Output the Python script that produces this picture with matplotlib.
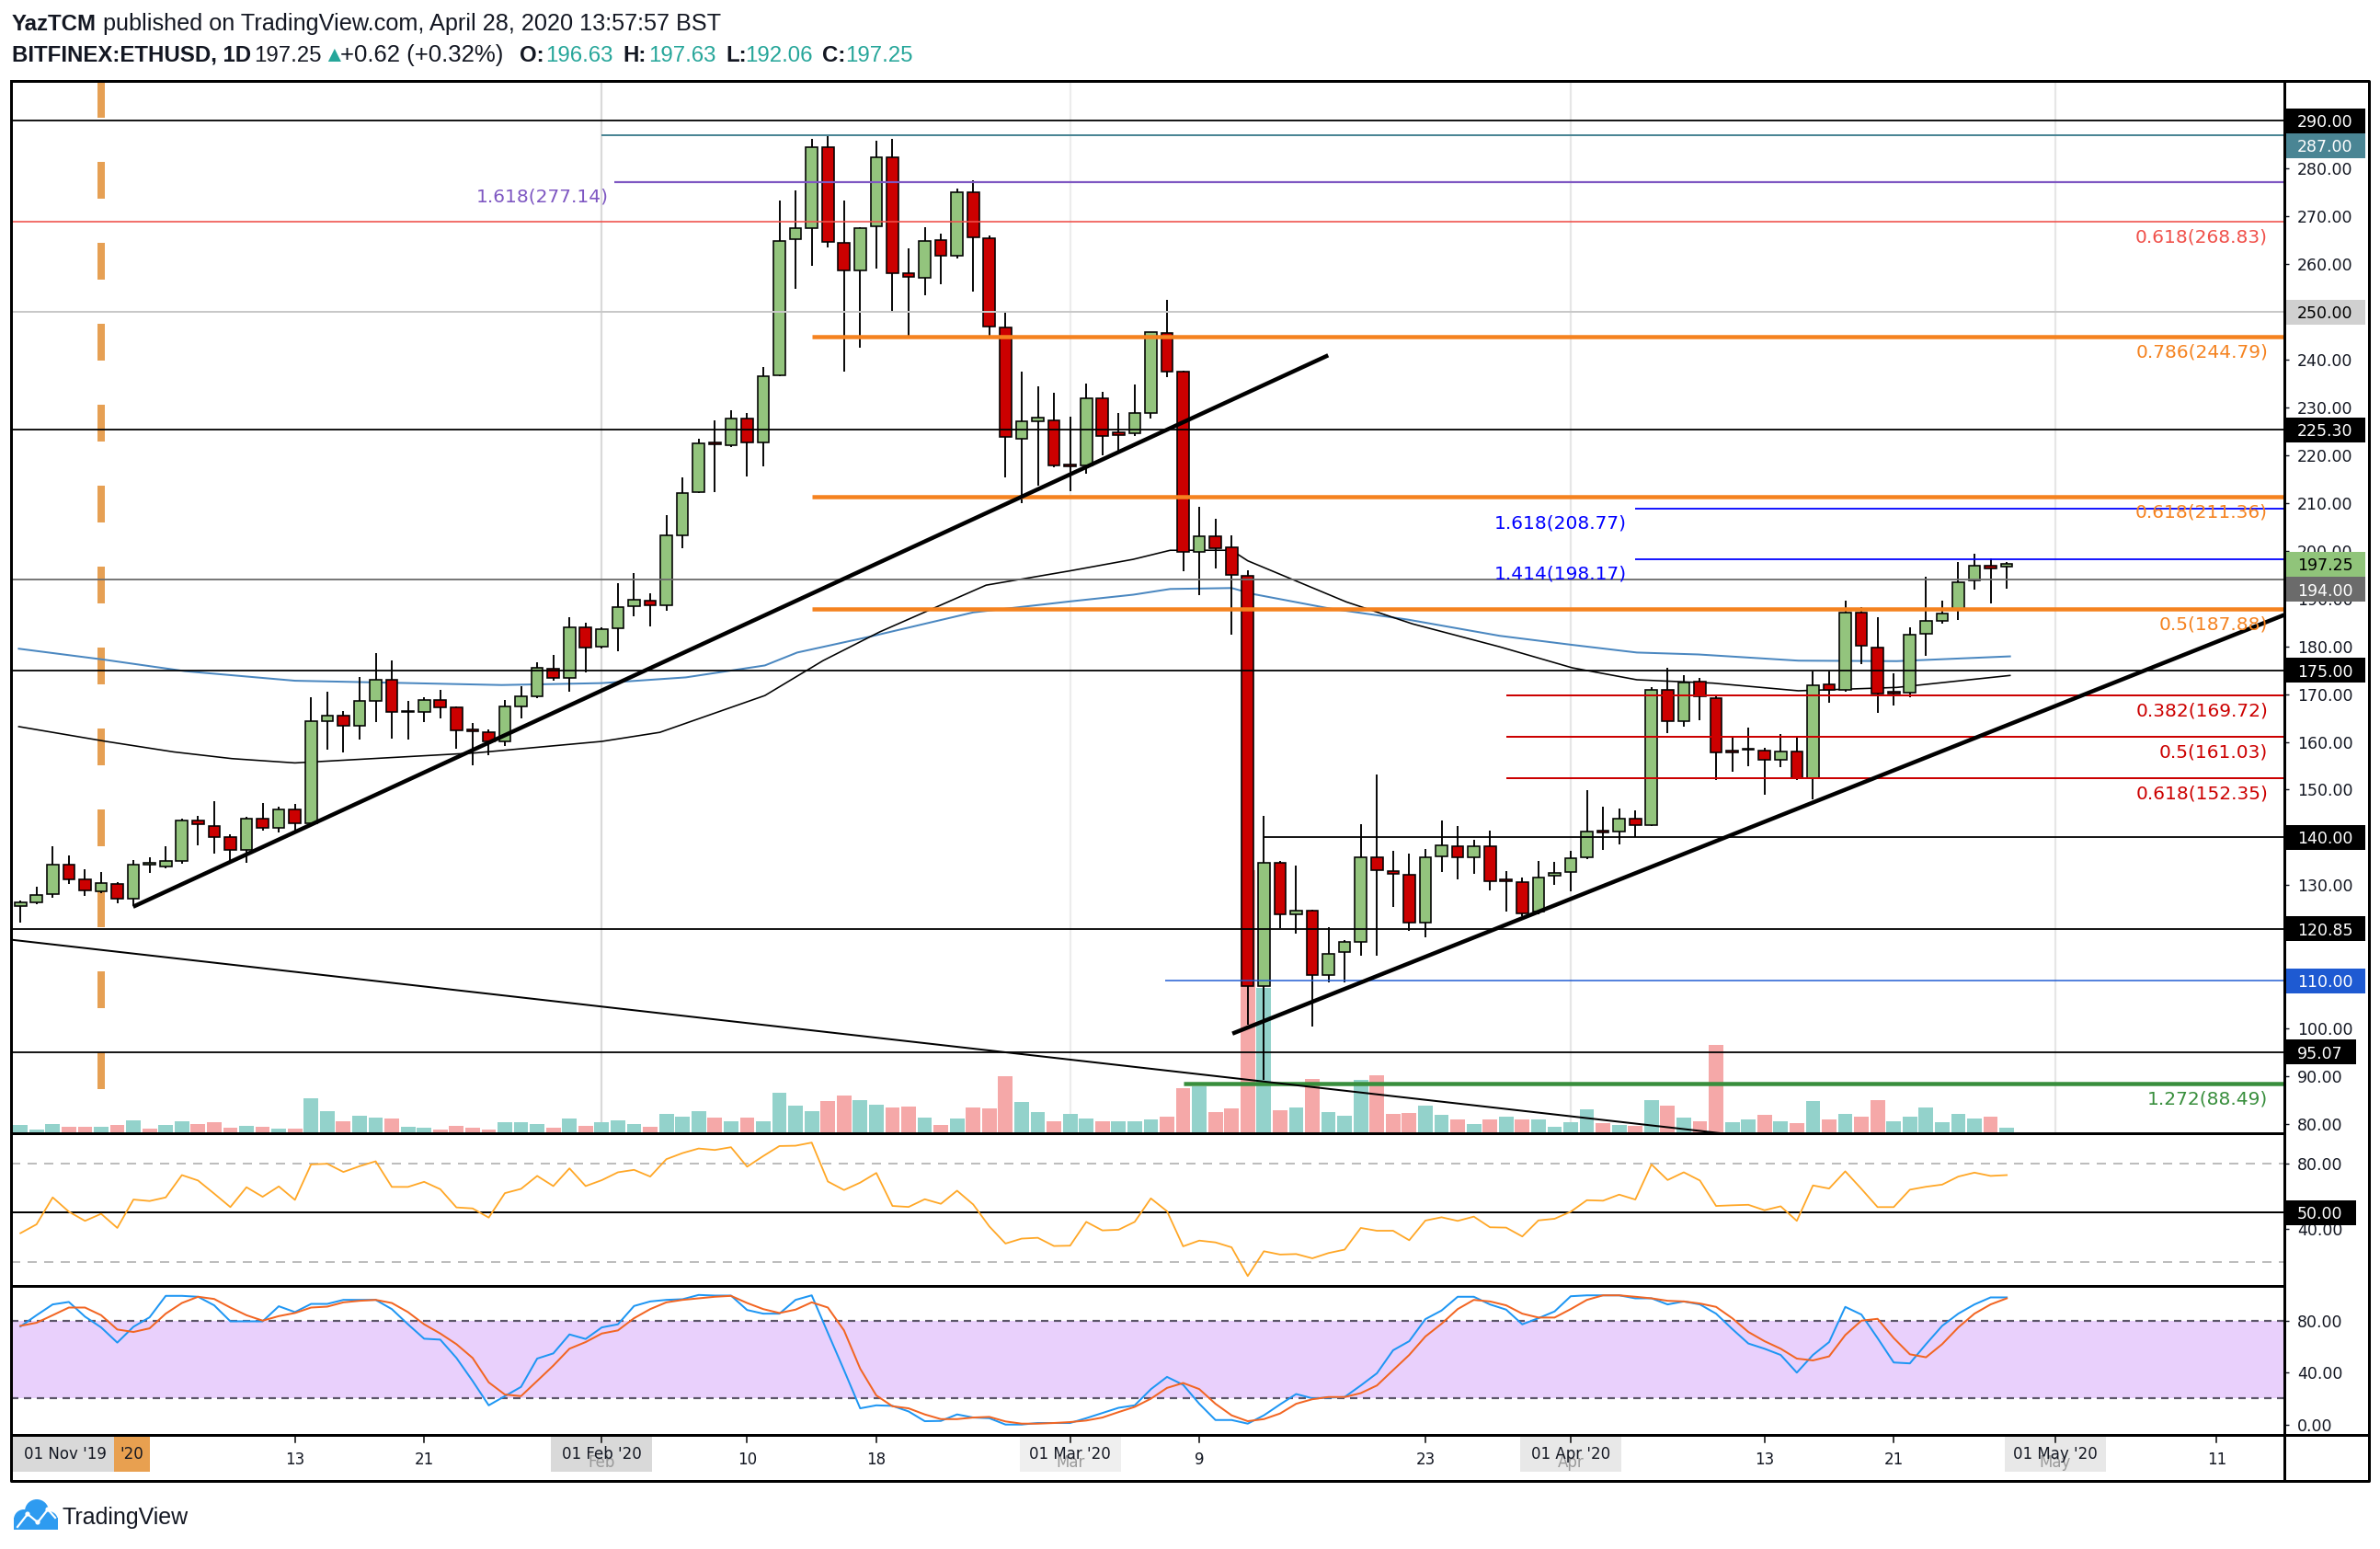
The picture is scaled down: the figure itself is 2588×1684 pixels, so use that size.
import matplotlib
matplotlib.use("Agg")
import matplotlib.pyplot as plt
import matplotlib.transforms as mtransforms
from matplotlib.patches import Rectangle, Circle
import numpy as np

plt.rcParams['font.family'] = ['DejaVu Sans']
plt.rcParams['lines.scale_dashes'] = False

# ======================= DATA =======================
# day index: 0 = 01 Jan 2020 ; first candle = 27 Dec 2019
first_day = -5

opens = [125.7, 126.5, 128.1, 134.3, 131.2,
         128.8, 130.3, 127.1, 134.3, 134.0, 135.0, 143.6, 142.4, 140.0, 137.3,
         143.9, 142.0, 145.9, 143.0, 164.4, 165.5, 163.4, 168.6, 173.0, 166.3,
         166.3, 168.8, 167.2, 162.4, 162.0, 160.1, 167.5, 169.5, 175.35, 173.3, 183.9,
         179.9, 183.7, 188.4, 189.5, 188.5, 203.3, 212.2, 222.5, 222.1, 227.6,
         222.6, 236.7, 265.3, 267.6, 284.5, 264.4, 258.6, 267.9, 282.4, 258.0,
         257.1, 265.0, 261.8, 275.1, 265.4, 246.7, 223.5, 227.0, 227.2,
         217.9, 217.8, 231.9, 224.8, 224.6, 228.9, 245.5, 237.5, 199.7, 203.1,
         200.7, 194.8, 108.9, 134.7, 123.9, 124.7, 111.3, 116.0, 118.2, 135.8,
         133.0, 132.1, 122.1, 136.0, 138.1, 135.9, 138.1, 130.9, 130.6, 124.5, 132.0,
         132.7, 135.9, 141.2, 141.2, 144.0, 142.6, 170.8, 164.4, 172.6, 169.2,
         157.9, 158.3, 158.2, 156.2, 157.9, 152.4, 172.0, 170.9, 187.0, 179.8,
         170.3, 170.4, 182.6, 185.4, 187.6, 193.7, 196.8, 196.63]
highs = [126.8, 129.7, 138.2, 136.2, 133.4,
         132.7, 130.6, 135.2, 135.9, 138.1, 143.9, 144.6, 147.5, 140.7, 144.4,
         147.2, 146.5, 147.0, 169.4, 170.5, 166.5, 173.5, 178.5, 177.1, 168.5,
         169.4, 170.9, 167.5, 163.9, 162.6, 168.7, 171.6, 176.6, 178.2, 186.1, 185.0,
         183.9, 193.3, 195.4, 191.1, 207.5, 215.4, 223.5, 227.2, 229.4, 228.9,
         238.5, 273.2, 275.5, 286.1, 286.9, 273.2, 267.8, 285.9, 286.2, 263.3,
         267.8, 266.3, 275.8, 277.6, 266.0, 250.0, 237.5, 234.5, 233.0,
         228.1, 235.0, 233.2, 228.9, 234.7, 245.8, 252.6, 237.6, 209.2, 206.6,
         203.2, 196.0, 144.5, 135.1, 134.1, 124.9, 121.3, 118.5, 142.7, 153.2,
         137.2, 136.7, 137.6, 143.5, 142.3, 139.6, 141.5, 132.9, 131.6, 135.1, 134.9,
         137.2, 149.9, 146.5, 146.1, 145.7, 171.5, 175.5, 173.9, 173.3, 169.6,
         160.9, 163.0, 158.7, 161.6, 161.0, 174.8, 174.8, 189.5, 188.3, 186.1,
         174.3, 183.9, 194.5, 189.5, 197.7, 199.3, 198.5, 197.63]
lows = [122.1, 126.0, 127.4, 130.2, 127.8,
        128.3, 126.3, 125.7, 132.6, 133.6, 134.5, 138.4, 136.7, 135.0, 134.7,
        141.4, 141.0, 141.5, 142.6, 158.4, 157.8, 160.4, 164.2, 160.6, 160.4,
        164.2, 165.0, 158.6, 155.1, 157.3, 159.1, 164.9, 169.2, 172.85, 170.5, 174.6,
        179.5, 178.9, 186.2, 184.2, 187.5, 200.6, 212.0, 212.3, 221.8, 215.5,
        217.7, 236.5, 254.9, 259.6, 263.5, 237.5, 242.5, 259.0, 250.0, 244.8,
        253.4, 255.8, 261.1, 254.3, 244.8, 215.4, 210.0, 213.7, 217.5,
        212.4, 216.2, 219.9, 220.9, 224.0, 227.6, 236.4, 195.8, 190.7, 196.3,
        182.5, 100.9, 89.2, 121.1, 119.9, 100.5, 109.7, 109.7, 115.2, 115.2,
        125.5, 120.5, 119.1, 132.7, 131.2, 132.3, 129.0, 124.5, 123.5, 124.0, 130.1,
        128.8, 135.5, 137.4, 138.6, 140.0, 142.4, 161.9, 163.2, 164.5, 152.1,
        153.7, 154.9, 148.9, 154.7, 152.1, 147.9, 168.1, 170.5, 176.3, 166.1,
        167.7, 169.4, 178.0, 184.8, 185.5, 191.8, 188.9, 192.06]
closes = [126.4, 127.9, 134.3, 131.3, 129.0,
          130.4, 127.1, 134.3, 134.6, 135.1, 143.6, 142.7, 140.0, 137.3, 143.9,
          142.1, 145.9, 143.0, 164.3, 165.5, 163.4, 168.6, 173.0, 166.3, 166.2,
          168.8, 167.3, 162.5, 162.3, 160.1, 167.5, 169.5, 175.5, 173.4, 183.9, 179.7,
          183.6, 188.2, 189.7, 188.5, 203.3, 212.1, 222.4, 222.3, 227.6, 222.6,
          236.6, 264.8, 267.6, 284.5, 264.6, 258.6, 267.6, 282.4, 258.0, 257.3,
          264.8, 261.8, 275.1, 265.6, 247.0, 223.8, 227.0, 227.8, 217.8,
          217.7, 231.9, 224.0, 224.2, 228.9, 245.7, 237.5, 199.7, 203.1, 200.6,
          195.0, 108.9, 134.7, 124.0, 124.7, 111.3, 115.7, 118.2, 135.8, 133.1,
          132.3, 122.1, 135.8, 138.3, 135.9, 138.1, 130.8, 130.8, 124.2, 131.6, 132.6,
          135.7, 141.2, 141.1, 143.9, 142.5, 170.8, 164.4, 172.5, 169.6, 157.7,
          157.8, 158.4, 156.2, 157.9, 152.4, 171.8, 170.9, 187.0, 180.2, 170.1,
          170.2, 182.4, 185.3, 186.9, 193.5, 196.8, 196.3, 197.25]

volumes = [27, 12, 30, 21, 21,
           21, 27, 42, 15, 27, 39, 30, 36, 18, 24,
           21, 15, 15, 114, 72, 39, 57, 51, 48, 21,
           18, 12, 24, 18, 12, 36, 36, 30, 18, 48, 24,
           36, 42, 30, 21, 63, 54, 72, 51, 39, 51,
           39, 132, 90, 72, 105, 123, 108, 93, 84, 87,
           51, 27, 48, 84, 81, 186, 102, 69, 39,
           63, 48, 39, 39, 39, 45, 54, 147, 153, 69,
           81, 858, 474, 75, 84, 177, 69, 57, 174, 189,
           63, 66, 90, 60, 45, 30, 45, 54, 45, 45, 21,
           36, 78, 33, 27, 24, 108, 90, 51, 39, 288,
           36, 45, 60, 39, 33, 105, 45, 63, 54, 108,
           39, 54, 84, 36, 63, 48, 54, 18]
volume_dir = list("tttpp" "tptpttpppt" "ptpttpttpt" "tpppptttptp"
                  "tttptttptp" "ttttppttpp" "tptpppttp"
                  "ttptttpptp" "pptptptttp" "ppttptptptt"
                  "ttptptptpp" "ttptptptpp" "ttttttpt")

rsi = [37.5, 42.9, 59.3, 50.6, 45.0,
       49.3, 40.7, 58.0, 57.1, 59.3, 72.9, 69.6, 61.6, 53.4, 65.5,
       59.7, 66.0, 57.8, 79.4, 79.8, 74.8, 78.3, 81.3, 65.7, 65.7,
       68.8, 64.3, 53.2, 52.6, 47.0, 61.9, 64.5, 72.4, 66.2, 77.0, 66.2,
       69.8, 74.6, 76.1, 72.0, 82.6, 86.3, 89.1, 88.2, 89.9, 78.0,
       84.5, 90.6, 90.8, 92.7, 69.0, 63.8, 68.3, 74.2, 54.1, 53.5,
       58.2, 55.4, 63.4, 55.0, 41.6, 31.2, 34.2, 34.7, 29.7,
       29.9, 44.4, 39.2, 39.6, 44.4, 58.7, 50.9, 29.5, 33.0, 31.9,
       28.9, 11.4, 26.5, 24.5, 24.8, 22.2, 25.4, 27.5, 40.7, 39.0,
       39.0, 33.2, 45.2, 47.2, 45.0, 47.6, 41.1, 40.9, 35.5, 45.3, 46.3,
       50.6, 57.6, 57.3, 61.0, 58.0, 79.4, 69.9, 74.6, 69.6, 54.1,
       54.5, 54.8, 51.5, 53.9, 45.0, 66.6, 64.7, 75.2, 64.5, 53.4,
       53.4, 64.0, 65.8, 67.1, 72.0, 74.4, 72.4, 72.9]

stoch_k = [75.5, 84.2, 92.5, 94.4, 83.1,
           74.8, 63.1, 75.3, 82.6, 99.1, 99.1, 98.4, 91.8, 79.5, 79.5,
           79.5, 91.1, 86.6, 92.9, 92.9, 96.0, 96.0, 96.0, 88.9, 77.2,
           66.1, 65.4, 51.3, 33.6, 14.8, 21.9, 29.0, 50.8, 54.8, 69.4, 65.9,
           74.8, 77.2, 91.3, 94.8, 96.0, 96.5, 99.8, 99.3, 99.3, 88.2,
           85.4, 85.4, 96.0, 99.5, 70.6, 41.9, 12.5, 14.8, 14.4, 10.1,
           2.6, 2.8, 7.8, 5.4, 4.9, 0.0, 0.0, 1.2, 1.2,
           1.2, 4.9, 8.9, 12.9, 14.8, 27.2, 36.7, 30.6, 16.0, 3.5,
           3.5, 0.7, 7.1, 15.5, 23.5, 20.2, 20.7, 21.2, 30.1, 39.5,
           57.2, 64.2, 81.2, 87.8, 98.4, 98.4, 92.5, 88.5, 77.2, 81.9, 87.1,
           98.8, 99.5, 99.5, 99.5, 97.2, 97.2, 92.5, 94.8, 92.5, 85.4,
           73.6, 62.4, 58.4, 53.6, 40.0, 53.6, 63.5, 90.6, 84.7, 66.6,
           47.8, 47.1, 61.9, 76.0, 85.4, 92.5, 97.9, 97.9]
stoch_d = [76.0, 78.4, 84.2, 90.1, 90.1,
           84.2, 73.2, 71.3, 74.1, 85.4, 93.6, 98.4, 96.7, 90.1, 84.2,
           80.0, 83.5, 85.9, 90.1, 90.8, 94.1, 95.3, 96.0, 93.6, 86.6,
           77.2, 70.1, 61.9, 51.3, 32.5, 23.1, 21.9, 33.6, 45.4, 58.4, 63.5,
           70.1, 72.5, 81.9, 88.9, 94.1, 96.0, 97.2, 98.4, 99.1, 93.6,
           88.9, 85.9, 88.5, 94.1, 90.1, 72.5, 43.1, 22.4, 14.1, 12.5,
           7.8, 4.2, 4.2, 5.4, 5.9, 2.4, 0.7, 0.7, 1.2,
           1.9, 3.1, 5.4, 9.6, 13.6, 19.9, 28.2, 32.0, 27.3, 16.0,
           7.1, 2.6, 4.2, 8.5, 16.0, 19.5, 21.2, 21.2, 24.2, 30.1,
           41.9, 53.6, 67.8, 77.6, 88.9, 96.0, 94.8, 91.8, 85.4, 82.4, 82.4,
           88.9, 96.0, 99.5, 99.5, 98.4, 97.2, 95.3, 94.8, 93.2, 90.6,
           81.9, 71.3, 64.2, 58.4, 50.8, 49.4, 52.5, 68.9, 80.0, 81.4,
           66.6, 54.1, 51.8, 61.9, 74.8, 85.4, 92.5, 97.2]

# moving averages (sampled from the chart)
ma_black_day = [-5.1, 0.3, 4.5, 8.1, 12.0, 23.2, 31.0, 34.6, 41.1, 44.7, 48.2, 54.8,
                60.0, 63.9, 66.2, 70.0, 71.0, 77.1, 81.2, 86.6, 91.1, 95.1, 99.8,
                105.1, 111.2, 118.2]
ma_black_val = [163.2, 160.1, 157.9, 156.5, 155.6, 157.7, 160.1, 162.0, 169.7, 177.0, 183.0,
                192.8, 195.8, 198.2, 200.1, 200.1, 197.9, 189.3, 184.7, 179.9, 175.5,
                173.0, 172.3, 170.7, 171.4, 173.9]
ma_blue_day = [-5.1, 0.2, 5.2, 12.0, 24.8, 31.0, 36.2, 41.1, 43.1, 47.7, 54.0, 60.0,
               63.9, 66.2, 70.0, 71.4, 76.1, 80.9, 86.6, 91.1, 95.1, 98.9, 105.1,
               111.2, 118.2]
ma_blue_val = [179.5, 177.2, 174.8, 172.8, 171.9, 172.3, 173.5, 176.0, 178.7, 182.1, 187.1,
               189.4, 190.8, 192.0, 192.2, 190.9, 187.9, 185.6, 182.2, 180.3, 178.7,
               178.3, 177.0, 176.9, 177.9]

# trend lines: (day, price) end points
trend_upper = [(1.98, 125.5), (75.98, 240.9)]
trend_lower = [(70.05, 98.95), (135.2, 186.6)]
trend_down = [(-5.58, 118.6), (100.8, 77.9)]

# horizontal levels
level_values = [290.00, 287.00, 277.14, 268.83, 250.00, 244.79, 225.30, 211.36, 208.77,
                198.17, 194.00, 187.88, 175.00, 169.72, 161.03, 152.35, 140.00, 120.85,
                110.00, 95.07, 88.49]
level_start = [None, 31.0, 31.8, None, None, 44.0, None, 44.0, 95.0,
               95.0, None, 44.0, None, 87.0, 87.0, 87.0, 72.0, None,
               65.9, None, 67.0]

fib_right_labels = ["0.618(268.83)", "0.786(244.79)", "0.618(211.36)", "0.5(187.88)",
                    "0.382(169.72)", "0.5(161.03)", "0.618(152.35)", "1.272(88.49)"]
fib_right_values = [268.83, 244.79, 211.36, 187.88, 169.72, 161.03, 152.35, 88.49]
fib_left_labels = ["1.618(277.14)", "1.618(208.77)", "1.414(198.17)"]
fib_left_values = [277.14, 208.77, 198.17]
fib_left_end_day = [31.43, 94.48, 94.48]

box_values = [290.00, 287.00, 250.00, 225.30, 197.25, 194.00, 175.00, 140.00, 120.85, 110.00, 95.07]

month_days = [31, 60, 91, 121]
month_labels = ["01 Feb '20", "01 Mar '20", "01 Apr '20", "01 May '20"]
month_short = ["Feb", "Mar", "Apr", "May"]
day_tick_days = [12, 20, 40, 48, 68, 82, 103, 111, 131]
day_tick_labels = ["13", "21", "10", "18", "9", "23", "13", "21", "11"]

# ======================= STYLE / LAYOUT =======================
W, H, DPI = 2588, 1684, 100
PX = 72.0 / DPI
fig = plt.figure(figsize=(W / DPI, H / DPI), dpi=DPI, facecolor='white')


def rect(x0, y0, x1, y1):
    return [x0 / W, 1 - y1 / H, (x1 - x0) / W, (y1 - y0) / H]


PL, PR = 12, 2484
TOP, P_BOT, R_BOT, S_BOT, X_BOT = 88, 1232, 1397.5, 1560, 1610
XLIM = (-5.58, 135.19)
PRICE_LIM = (78.10, 298.32)
RSI_LIM = (5.65, 98.4)
STO_LIM = (-8.0, 107.1)
VOL_TOP = 3432
TXT = '#131722'
AXFS = 12.5

axv = fig.add_axes(rect(PL, TOP, PR, P_BOT))
ax = fig.add_axes(rect(PL, TOP, PR, P_BOT))
axr = fig.add_axes(rect(PL, P_BOT, PR, R_BOT))
axs = fig.add_axes(rect(PL, R_BOT, PR, S_BOT))
axx = fig.add_axes(rect(PL, S_BOT, PR, X_BOT))
ov = fig.add_axes([0, 0, 1, 1])
axv.set_zorder(1)
ax.set_zorder(2)
ax.patch.set_visible(False)
ov.set_zorder(10)
ov.patch.set_visible(False)
ov.set_xlim(0, W)
ov.set_ylim(H, 0)
ov.axis('off')

for a in (axv, ax, axr, axs, axx):
    a.set_xlim(*XLIM)
    for sp in a.spines.values():
        sp.set_visible(False)
    a.tick_params(axis='x', bottom=False, labelbottom=False, top=False, labeltop=False)

# ---------------- volume + month grid ----------------
axv.set_ylim(0, VOL_TOP)
axv.set_yticks([])
axv.patch.set_visible(False)
days = np.arange(first_day, first_day + len(opens))
vcol = ['#93d2cb' if v == 't' else '#f5a8a8' for v in volume_dir]
for d, c in zip(month_days, ['#d9d9d9', '#ececec', '#e6e6e6', '#e6e6e6']):
    axv.axvline(d, color=c, lw=2.2 * PX, zorder=0)
axv.bar(days, volumes, width=0.9, color=vcol, linewidth=0, zorder=2)

# ---------------- price pane ----------------
ax.set_ylim(*PRICE_LIM)
ax.yaxis.tick_right()
pticks = list(range(80, 300, 10))
ax.set_yticks(pticks)
ax.set_yticklabels([f"{t:.2f}" for t in pticks])
ax.tick_params(axis='y', direction='out', length=3.6, width=1.0, pad=6.5,
               labelsize=AXFS, colors=TXT)

# Jan 1 orange dashed marker
ax.plot([0, 0], [PRICE_LIM[1], 86.7], color='#e6a054', lw=8 * PX,
        linestyle=(0, (40 * PX, 48 * PX)), zorder=2.5, dash_capstyle='butt')

# moving averages
ax.plot(ma_blue_day, ma_blue_val, color='#4a87c0', lw=2.0 * PX, zorder=2.6)
ax.plot(ma_black_day, ma_black_val, color='black', lw=1.6 * PX, zorder=2.6)

# candles
o = np.array(opens); h = np.array(highs); l = np.array(lows); c = np.array(closes)
up = c >= o
ax.vlines(days, l, h, color='black', lw=1.9 * PX, zorder=3)
ax.bar(days, np.maximum(np.abs(c - o), 0.35), bottom=np.minimum(o, c), width=0.72,
       color=np.where(up, '#93c47d', '#cc0000'), edgecolor='black',
       linewidth=1.6 * PX, zorder=4)

# horizontal levels
level_style = {
    290.00: ('black', 1.8), 287.00: ('#4a8594', 2.0), 277.14: ('#7e57c2', 2.2),
    268.83: ('#f0504a', 1.6), 250.00: ('#c8c8c8', 2.0), 244.79: ('#f5821f', 4.5),
    225.30: ('black', 1.8), 211.36: ('#f5821f', 4.5), 208.77: ('#0000ff', 1.8),
    198.17: ('#0000ff', 1.8), 194.00: ('#6b6b6b', 1.8), 187.88: ('#f5821f', 4.5),
    175.00: ('black', 1.8), 169.72: ('#cc0000', 2.0), 161.03: ('#cc0000', 2.0),
    152.35: ('#cc0000', 2.0), 140.00: ('black', 1.8), 120.85: ('black', 1.8),
    110.00: ('#1e5ad2', 1.5), 95.07: ('black', 1.8), 88.49: ('#388e3c', 4.5),
}
for v, s in zip(level_values, level_start):
    col, lw = level_style[v]
    x0 = XLIM[0] if s is None else s
    ax.hlines(v, x0, XLIM[1], color=col, lw=lw * PX, zorder=5)

# trend lines
for seg, lw in ((trend_upper, 4.5), (trend_lower, 4.5), (trend_down, 2.0)):
    ax.plot([seg[0][0], seg[1][0]], [seg[0][1], seg[1][1]], color='black',
            lw=lw * PX, zorder=6, solid_capstyle='butt')

# fib labels
FIBFS = 14.5
right_col = {268.83: '#f0504a', 244.79: '#f5821f', 211.36: '#f5821f', 187.88: '#f5821f',
             169.72: '#cc0000', 161.03: '#cc0000', 152.35: '#cc0000', 88.49: '#388e3c'}
tr_ax = mtransforms.blended_transform_factory(ax.transAxes, ax.transData)
x_right = (2466 - PL) / (PR - PL)
for s, v in zip(fib_right_labels, fib_right_values):
    ax.annotate(s, xy=(x_right, v), xycoords=tr_ax, xytext=(0, -17 * PX),
                textcoords='offset points', ha='right', va='center',
                fontsize=FIBFS, color=right_col[v], zorder=7)
left_col = {277.14: '#7e57c2', 208.77: '#0000ff', 198.17: '#0000ff'}
for s, v, d in zip(fib_left_labels, fib_left_values, fib_left_end_day):
    ax.annotate(s, xy=(d, v), xytext=(0, -16 * PX), textcoords='offset points',
                ha='right', va='center', fontsize=FIBFS, color=left_col[v], zorder=7)


# price axis label boxes
def axis_box(a, value, text, fc, tc, x_end=2572, h_px=27, dy_px=0.0):
    trans = mtransforms.blended_transform_factory(a.transAxes, a.transData)
    pos = a.get_position()
    y0, y1 = a.get_ylim()
    per_px = (y1 - y0) / (pos.height * H)
    yc = value - dy_px * per_px
    dh = h_px * per_px
    a.add_patch(Rectangle((1.0, yc - dh / 2), (x_end - PR) / (PR - PL), dh,
                          transform=trans, facecolor=fc, edgecolor='none',
                          clip_on=False, zorder=20))
    a.text(1.0 + (2498 - PR) / (PR - PL), yc, text, transform=trans, color=tc,
           fontsize=AXFS, ha='left', va='center_baseline', clip_on=False, zorder=21)


box_style = {
    290.00: ('black', 'white', 2572, 0), 287.00: ('#4a8594', 'white', 2572, 11.6),
    250.00: ('#d0d0d0', 'black', 2572, 0), 225.30: ('black', 'white', 2572, 0),
    197.25: ('#90c47a', 'black', 2572, 0), 194.00: ('#6b6b6b', 'white', 2572, 10.6),
    175.00: ('black', 'white', 2572, 0), 140.00: ('black', 'white', 2572, 0),
    120.85: ('black', 'white', 2572, 0), 110.00: ('#1e5ad2', 'white', 2572, 0),
    95.07: ('black', 'white', 2562, 0),
}
for v in box_values:
    fc, tc, xe, dy = box_style[v]
    axis_box(ax, v, f"{v:.2f}", fc, tc, x_end=xe, dy_px=dy)

# ---------------- RSI pane ----------------
axr.set_ylim(*RSI_LIM)
axr.axhline(80, color='#bdbdbd', lw=2 * PX, linestyle=(0, (10 * PX, 8 * PX)))
axr.axhline(20, color='#bdbdbd', lw=2 * PX, linestyle=(0, (10 * PX, 8 * PX)))
axr.axhline(50, color='black', lw=2 * PX)
axr.plot(days, rsi, color='#ffa726', lw=1.8 * PX)
axr.yaxis.tick_right()
axr.set_yticks([40, 80])
axr.set_yticklabels(["40.00", "80.00"])
axr.tick_params(axis='y', direction='out', length=3.6, width=1.0, pad=6.5,
                labelsize=AXFS, colors=TXT)
axis_box(axr, 50.0, "50.00", 'black', 'white', x_end=2562)

# ---------------- Stoch RSI pane ----------------
axs.set_ylim(*STO_LIM)
axs.axhspan(20, 80, color='#e9d0fc', lw=0, zorder=0)
axs.axhline(80, color='#5b5568', lw=2.2 * PX, linestyle=(0, (8 * PX, 6 * PX)), zorder=1)
axs.axhline(20, color='#5b5568', lw=2.2 * PX, linestyle=(0, (8 * PX, 6 * PX)), zorder=1)
axs.plot(days, stoch_k, color='#1e96f3', lw=2.0 * PX, zorder=3)
axs.plot(days, stoch_d, color='#f26522', lw=2.0 * PX, zorder=4)
axs.yaxis.tick_right()
axs.set_yticks([0, 40, 80])
axs.set_yticklabels(["0.00", "40.00", "80.00"])
axs.tick_params(axis='y', direction='out', length=3.6, width=1.0, pad=6.5,
                labelsize=AXFS, colors=TXT)

# ---------------- time axis ----------------
axx.set_ylim(0, 1)
axx.set_yticks([])
axx.patch.set_visible(False)
XFS = 12
for d, s in zip(day_tick_days, day_tick_labels):
    axx.plot([d, d], [1.0, 0.84], color='black', lw=1.5 * PX)
    axx.text(d, 0.46, s, ha='center', va='center', fontsize=XFS, color=TXT)
for d, s, sh, fc in zip(month_days, month_labels, month_short,
                        ['#d9d9d9', '#efefef', '#e8e8e8', '#e8e8e8']):
    axx.add_patch(Rectangle((d - 3.13, 0.2), 6.26, 0.766, facecolor=fc,
                            edgecolor='none', zorder=1))
    axx.text(d, 0.40, sh, ha='center', va='center', fontsize=XFS, color='#9a9a9a', zorder=2)
    axx.text(d, 0.58, s, ha='center', va='center', fontsize=XFS, color=TXT, zorder=3)
    axx.plot([d, d], [1.0, 0.84], color='black', lw=1.5 * PX, zorder=4)
axx.add_patch(Rectangle((XLIM[0], 0.2), 0.82 - XLIM[0], 0.766, facecolor='#d9d9d9',
                        edgecolor='none', zorder=1))
axx.text(-2.25, 0.57, "01 Nov '19", ha='center', va='center', fontsize=XFS, color=TXT, zorder=3)
axx.add_patch(Rectangle((0.82, 0.2), 2.21, 0.766, facecolor='#e8a050',
                        edgecolor='none', zorder=1))
axx.text(1.92, 0.57, "'20", ha='center', va='center', fontsize=XFS, color=TXT, zorder=3)

# ---------------- frame ----------------
BLW = 3 * PX
ov.plot([PL, 2576, 2576, PL, PL], [TOP, TOP, X_BOT, X_BOT, TOP], color='black', lw=BLW)
ov.plot([PR, PR], [TOP, X_BOT], color='black', lw=BLW)
ov.plot([PL, PR], [P_BOT, P_BOT], color='black', lw=BLW)
ov.plot([PL, PR], [R_BOT, R_BOT], color='black', lw=BLW)
ov.plot([PL, 2576], [S_BOT, S_BOT], color='black', lw=BLW)

# ---------------- header ----------------
HF = ['Liberation Sans', 'DejaVu Sans']


def htext(x, y, s, color=TXT, weight='normal', size=17.3):
    fig.text(x / W, 1 - y / H, s, color=color, fontweight=weight, fontsize=size,
             family=HF, ha='left', va='baseline')


TEAL = '#26a69a'
htext(12.6, 33.3, "YazTCM", weight='bold')
htext(112.2, 33.3, "published on TradingView.com, April 28, 2020 13:57:57 BST", size=18.2)
htext(12.6, 66.7, "BITFINEX:ETHUSD, 1D", weight='bold')
htext(275.7, 66.7, "197.25")
htext(350.8, 66.7, "\u25B2", color=TEAL)
htext(369.7, 66.7, "+0.62 (+0.32%)", size=18.5)
htext(564.7, 66.7, "O:", weight='bold')
htext(592.8, 66.7, "196.63", color=TEAL)
htext(677.0, 66.7, "H:", weight='bold')
htext(705.0, 66.7, "197.63", color=TEAL)
htext(789.0, 66.7, "L:", weight='bold')
htext(810.0, 66.7, "192.06", color=TEAL)
htext(894.4, 66.7, "C:", weight='bold')
htext(919.0, 66.7, "197.25", color=TEAL)

# ---------------- TradingView logo ----------------
LB = '#2e9bf0'
for cx, cy, r in ((26, 1652, 11), (40, 1643, 13), (53, 1653, 10)):
    ov.add_patch(Circle((cx, cy), r, facecolor=LB, edgecolor='none', zorder=1))
ov.add_patch(Rectangle((15, 1650), 48, 13, facecolor=LB, edgecolor='none', zorder=1))
ov.plot([19, 30, 41, 52, 60], [1660, 1646, 1655, 1641, 1650], color='white', lw=2.2 * PX, zorder=2)
for px_, py_ in ((30, 1646), (41, 1655), (52, 1641)):
    ov.add_patch(Circle((px_, py_), 2.6, facecolor='white', edgecolor='none', zorder=3))
fig.text(68 / W, 1 - 1657 / H, "TradingView", color=TXT, fontsize=18, family=HF,
         ha='left', va='baseline')

fig.savefig("out.png", dpi=DPI, facecolor='white')
